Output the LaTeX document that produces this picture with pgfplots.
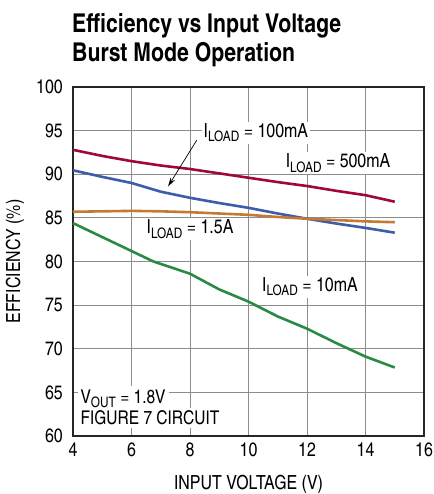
\documentclass[border=0pt]{standalone}
\usepackage{fontspec}
\setmainfont{texgyreheroscn-regular.otf}[BoldFont=texgyreheroscn-bold.otf]
\usepackage{pgfplots}
\pgfplotsset{compat=1.18}
\usetikzlibrary{arrows.meta}
\definecolor{cRed}{RGB}{160,8,55}
\definecolor{cBlue}{RGB}{62,92,170}
\definecolor{cOrange}{RGB}{196,122,52}
\definecolor{cGreen}{RGB}{42,138,68}
\definecolor{gridc}{RGB}{140,140,140}
\newcommand\sub[1]{\raisebox{-0.24em}{\fontsize{14.5}{15}\selectfont #1}}
\begin{document}
\begin{tikzpicture}[x=1bp,y=1bp]
\begin{axis}[
  at={(0,0)}, anchor=south west,
  scale only axis, width=351bp, height=349bp,
  xmin=4, xmax=16, ymin=60, ymax=100,
  xtick={4,6,...,16}, ytick={60,65,...,100},
  grid=major,
  major grid style={gridc, line width=0.8bp},
  axis line style={black!85, line width=1.3bp},
  major tick length=0pt,
  clip=false,
  /pgf/number format/assume math mode=true,
  tick label style={font=\fontsize{19.5}{21}\selectfont, inner sep=0pt},
  xticklabel style={anchor=north, yshift=-7bp},
  yticklabel style={anchor=east, xshift=-10bp},
]
\addplot[cRed, line width=2.6bp] coordinates {(4,92.8) (5,92.1) (6,91.5) (7,91.0) (8,90.6) (9,90.1) (10,89.6) (11,89.1) (12,88.65) (13,88.1) (14,87.6) (15,86.85)};
\addplot[cBlue, line width=2.6bp] coordinates {(4,90.45) (5,89.7) (6,89.0) (7,88.0) (8,87.3) (9,86.7) (10,86.15) (11,85.5) (12,84.9) (13,84.35) (14,83.85) (15,83.3)};
\addplot[cOrange, line width=2.6bp] coordinates {(4,85.7) (5,85.75) (6,85.8) (7,85.75) (8,85.65) (9,85.5) (10,85.35) (11,85.1) (12,84.9) (13,84.75) (14,84.6) (15,84.5)};
\addplot[cGreen, line width=2.6bp] coordinates {(4,84.4) (5,82.8) (6,81.2) (6.75,80.0) (8,78.6) (9,76.8) (10,75.4) (11,73.7) (12,72.3) (13,70.65) (14,69.1) (15,67.85)};
\node[fill=white, inner sep=1.5bp, font=\fontsize{19.5}{21}\selectfont] at (axis cs:10.25,94.75) {I\sub{LOAD} = 100mA};
\draw[black, line width=0.7bp, -{Stealth[length=9bp,width=5bp]}] (axis cs:8.23,93.9) -- (axis cs:7.25,88.6);
\node[fill=white, inner sep=1.5bp, font=\fontsize{19.5}{21}\selectfont] at (axis cs:13.06,91.3) {I\sub{LOAD} = 500mA};
\node[fill=white, inner sep=1.5bp, font=\fontsize{19.5}{21}\selectfont] at (axis cs:8.0,83.7) {I\sub{LOAD} = 1.5A};
\node[fill=white, inner sep=1.5bp, font=\fontsize{19.5}{21}\selectfont] at (axis cs:12.1,77.1) {I\sub{LOAD} = 10mA};
\node[fill=white, inner sep=3bp, anchor=base west, font=\fontsize{19}{21.5}\selectfont] at (axis cs:4.15,63.78) {V\sub{OUT} = 1.8V};
\node[fill=white, inner sep=3bp, anchor=base west, font=\fontsize{19}{21.5}\selectfont] at (axis cs:4.15,61.3) {FIGURE 7 CIRCUIT};
\end{axis}
\node[anchor=base, font=\fontsize{19.5}{21}\selectfont] at (175.5bp,-53bp) {INPUT VOLTAGE (V)};
\node[rotate=90, font=\fontsize{19.5}{21}\selectfont] at (-58bp,174.5bp) {EFFICIENCY (\%)};
\node[anchor=base west, inner sep=0pt, font=\bfseries\fontsize{26}{29}\selectfont] at (-1bp,403bp) {Efficiency vs Input Voltage};
\node[anchor=base west, inner sep=0pt, font=\bfseries\fontsize{26}{29}\selectfont] at (-1bp,374bp) {Burst Mode Operation};
\pgfresetboundingbox
\path[use as bounding box] (-73bp,-58bp) rectangle (361bp,436bp);
\end{tikzpicture}
\end{document}
